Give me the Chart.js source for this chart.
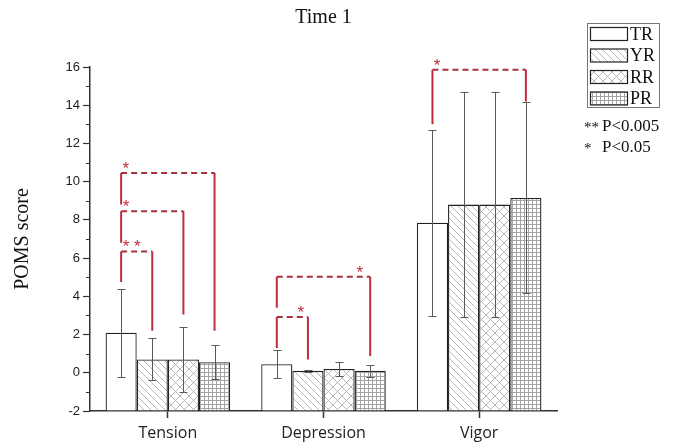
<!DOCTYPE html>
<html>
<head>
<meta charset="utf-8">
<script src="https://cdn.jsdelivr.net/npm/chart.js@4.4.1/dist/chart.umd.min.js"></script>
<style>
html,body{margin:0;padding:0;background:#fff;}
#wrap{width:677px;height:446px;}
</style>
</head>
<body>
<div id="wrap"><canvas id="c" width="677" height="446"></canvas></div>
<script>
// ---- data ----
const categories = ['Tension', 'Depression', 'Vigor'];
const seriesNames = ['TR', 'YR', 'RR', 'PR'];
const TR = [2.1, 0.45, 7.85];
const YR = [0.7, 0.1, 8.8];
const RR = [0.7, 0.2, 8.8];
const PR = [0.55, 0.1, 9.15];
const TR_err = [2.3, 0.73, 4.87];
const YR_err = [1.1, 0.05, 5.9];
const RR_err = [1.7, 0.38, 5.9];
const PR_err = [0.9, 0.3, 5.0];
const yTicks = [-2, 0, 2, 4, 6, 8, 10, 12, 14, 16];
const chartTitle = 'Time 1';
const yTitle = 'POMS score';
const noteLines = [['**', 'P<0.005'], ['*', 'P<0.05']];
// significance brackets: category, series from/to, bracket level, lower ends of the two legs, mark
const bracketCat   = [0, 0, 0, 1, 1, 2];
const bracketFrom  = [0, 0, 0, 0, 0, 0];
const bracketTo    = [1, 2, 3, 1, 3, 3];
const bracketLevel = [6.35, 8.45, 10.45, 2.92, 5.02, 15.85];
const bracketLeftEnd  = [4.75, 6.8, 8.8, 1.3, 3.4, 13.0];
const bracketRightEnd = [2.2, 3.05, 2.2, 0.7, 0.88, 14.2];
const bracketMark  = ['**', '*', '*', '*', '*', '*'];

const values = [TR, YR, RR, PR];
const errors = [TR_err, YR_err, RR_err, PR_err];

// ---- patterns ----
function makePattern(kind) {
  const s = kind === 'grid' ? 4 : (kind === 'cross' ? 9 : 7);
  const c = document.createElement('canvas');
  c.width = s; c.height = s;
  const g = c.getContext('2d');
  g.fillStyle = '#fff'; g.fillRect(0, 0, s, s);
  if (kind === 'none') return g.createPattern(c, 'repeat');
  g.strokeStyle = kind === 'grid' ? '#a4a4a4' : '#b0b0b0';
  g.lineWidth = kind === 'grid' ? 1 : 0.9;
  g.beginPath();
  if (kind === 'back' || kind === 'cross') {
    g.moveTo(-1, -1); g.lineTo(s + 1, s + 1);
    g.moveTo(-1, s - 1); g.lineTo(1, s + 1);
    g.moveTo(s - 1, -1); g.lineTo(s + 1, 1);
  }
  if (kind === 'cross') {
    g.moveTo(-1, s + 1); g.lineTo(s + 1, -1);
    g.moveTo(-1, 1); g.lineTo(1, -1);
    g.moveTo(s - 1, s + 1); g.lineTo(s + 1, s - 1);
  }
  if (kind === 'grid') {
    g.moveTo(0.5, 0); g.lineTo(0.5, s);
    g.moveTo(0, 0.5); g.lineTo(s, 0.5);
  }
  g.stroke();
  return document.getElementById('c').getContext('2d').createPattern(c, 'repeat');
}
const fills = [makePattern('none'), makePattern('back'), makePattern('cross'), makePattern('grid')];

// ---- plugins ----
const errorBars = {
  id: 'errorBars',
  afterDatasetsDraw(chart) {
    const ctx = chart.ctx, ys = chart.scales.y;
    ctx.save();
    ctx.strokeStyle = '#5a5a5a';
    ctx.lineWidth = 1;
    values.forEach((vals, i) => {
      const meta = chart.getDatasetMeta(i);
      vals.forEach((v, j) => {
        const x = Math.round(meta.data[j].x) + 0.5;
        const t = Math.round(ys.getPixelForValue(v + errors[i][j])) + 0.5;
        const b = Math.round(ys.getPixelForValue(v - errors[i][j])) + 0.5;
        ctx.beginPath();
        ctx.moveTo(x, t); ctx.lineTo(x, b);
        ctx.moveTo(x - 4, t); ctx.lineTo(x + 4, t);
        ctx.moveTo(x - 4, b); ctx.lineTo(x + 4, b);
        ctx.stroke();
      });
    });
    ctx.restore();
  }
};

const brackets = {
  id: 'brackets',
  afterDatasetsDraw(chart) {
    const ctx = chart.ctx, ys = chart.scales.y;
    ctx.save();
    const markFrac = [0.34, 0.08, 0.05, 0.77, 0.89, 0.05];
    bracketLevel.forEach((lv, k) => {
      const x1 = chart.getDatasetMeta(bracketFrom[k]).data[bracketCat[k]].x;
      const x2 = chart.getDatasetMeta(bracketTo[k]).data[bracketCat[k]].x;
      const y = ys.getPixelForValue(lv);
      const yl = ys.getPixelForValue(bracketLeftEnd[k]);
      const yr = ys.getPixelForValue(bracketRightEnd[k]);
      ctx.lineWidth = 2;
      ctx.strokeStyle = '#c42a3a';
      ctx.setLineDash([]);
      ctx.beginPath();
      ctx.moveTo(x1, y); ctx.lineTo(x1, yl);
      ctx.moveTo(x2, y); ctx.lineTo(x2, yr);
      ctx.stroke();
      ctx.strokeStyle = '#a8303f';
      ctx.setLineDash([6, 4]);
      ctx.beginPath();
      ctx.moveTo(x1, y); ctx.lineTo(x2, y);
      ctx.stroke();
      ctx.setLineDash([]);
      ctx.fillStyle = '#c42a3a';
      ctx.font = '17px "Liberation Sans"';
      ctx.textAlign = 'center';
      ctx.textBaseline = 'alphabetic';
      const mx = x1 + (x2 - x1) * markFrac[k];
      ctx.fillText(bracketMark[k].split('').join(' '), mx, y + 1);
    });
    ctx.restore();
  }
};

const decor = {
  id: 'decor',
  afterDraw(chart) {
    const ctx = chart.ctx, ys = chart.scales.y, a = chart.chartArea;
    ctx.save();
    // minor y ticks
    ctx.strokeStyle = '#333'; ctx.lineWidth = 1.2;
    ctx.beginPath();
    for (let k = 0; k < yTicks.length - 1; k++) {
      const v = (yTicks[k] + yTicks[k + 1]) / 2;
      const p = Math.round(ys.getPixelForValue(v)) + 0.5;
      ctx.moveTo(a.left - 4, p); ctx.lineTo(a.left, p);
    }
    ctx.stroke();
    // title
    ctx.fillStyle = '#111';
    ctx.font = '20px "Liberation Serif"';
    ctx.textAlign = 'center'; ctx.textBaseline = 'middle';
    ctx.fillText(chartTitle, (a.left + a.right) / 2, 18);
    // legend
    const lx = 587, ly = 23;
    ctx.strokeStyle = '#777'; ctx.lineWidth = 1;
    ctx.strokeRect(lx + 0.5, ly + 0.5, 72, 84);
    seriesNames.forEach((n, i) => {
      const cy = 34 + i * 21.5;
      ctx.fillStyle = fills[i];
      ctx.fillRect(590.5, cy - 6.5, 37, 13);
      ctx.strokeStyle = '#222'; ctx.lineWidth = 1.2;
      ctx.strokeRect(590.5, cy - 6.5, 37, 13);
      ctx.fillStyle = '#111';
      ctx.font = '18px "Liberation Serif"';
      ctx.textAlign = 'left'; ctx.textBaseline = 'middle';
      ctx.fillText(n, 630, cy + 1);
    });
    // notes
    noteLines.forEach((ln, i) => {
      const cy = 127 + i * 21;
      ctx.font = '15px "Liberation Serif"';
      ctx.fillText(ln[0], 584, cy + 1);
      ctx.font = '17px "Liberation Serif"';
      ctx.fillText(ln[1], 602, cy);
    });
    ctx.restore();
  }
};

// ---- chart ----
new Chart(document.getElementById('c'), {
  type: 'bar',
  data: {
    labels: categories,
    datasets: values.map((vals, i) => ({
      label: seriesNames[i],
      data: vals,
      base: yTicks[0],
      backgroundColor: fills[i],
      borderColor: '#222',
      borderWidth: 1.3,
      categoryPercentage: 0.8,
      barPercentage: 1.0
    }))
  },
  options: {
    responsive: false,
    animation: false,
    devicePixelRatio: 1,
    layout: { padding: { top: 67, right: 120, left: 0, bottom: 0 } },
    plugins: { legend: { display: false }, tooltip: { enabled: false }, title: { display: false } },
    scales: {
      x: {
        type: 'category',
        grid: { display: true, drawOnChartArea: false, offset: false, tickLength: 7, tickColor: '#333', tickWidth: 1.5 },
        border: { display: true, color: '#333', width: 1.5 },
        ticks: { color: '#222', font: { family: '"Open Sans"', size: 16 }, padding: 6 },
        afterFit(s) { s.height = 35; }
      },
      y: {
        min: yTicks[0], max: yTicks[yTicks.length - 1],
        afterBuildTicks(s) { s.ticks = yTicks.map(v => ({ value: v })); },
        grid: { display: true, drawOnChartArea: false, tickLength: 7, tickColor: '#333', tickWidth: 1.2 },
        border: { display: true, color: '#333', width: 1.5 },
        ticks: { color: '#222', font: { family: '"Liberation Sans"', size: 13 }, padding: 3 },
        title: { display: true, text: yTitle, color: '#111', font: { family: '"Liberation Serif"', size: 20 }, padding: { top: 11, bottom: 0 } },
        afterFit(s) { s.width = 90; }
      }
    }
  },
  plugins: [errorBars, brackets, decor]
});
</script>
</body>
</html>
